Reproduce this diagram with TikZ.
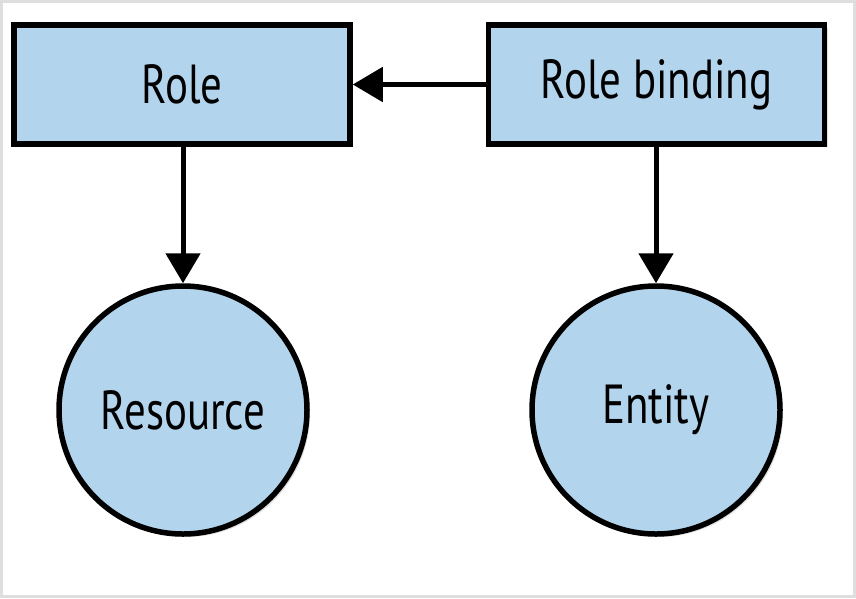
\documentclass[tikz,border=0pt]{standalone}
\usepackage{fontspec}
\setmainfont[FakeStretch=0.78]{PT Sans}
\usetikzlibrary{arrows.meta,shadows}
\definecolor{boxblue}{RGB}{178,212,236}
\definecolor{framegray}{RGB}{222,222,222}
\tikzset{
  box/.style={draw=black, line width=5.5pt, fill=boxblue, minimum width=336pt, minimum height=119pt, inner sep=0pt, font=\fontsize{55}{66}\selectfont,
    drop shadow={shadow xshift=3pt, shadow yshift=-3pt, opacity=0.25}},
  ball/.style={draw=black, line width=5.5pt, fill=boxblue, circle, minimum size=248pt, inner sep=0pt, font=\fontsize{55}{66}\selectfont,
    drop shadow={shadow xshift=3pt, shadow yshift=-3pt, opacity=0.25}},
  link/.style={line width=5pt, -{Triangle[length=30pt,width=34pt]}}
}
\begin{document}
\begin{tikzpicture}[x=1pt,y=-1pt]
\fill[white] (0,0) rectangle (856,598);
\draw[framegray, line width=3pt] (1.5,1.5) rectangle (854.5,596.5);
\useasboundingbox (0,0) rectangle (856,598);
\node[box] (role) at (182,84.5) {Role};
\node[box] (rb) at (656.5,84.5) {Role binding};
\node[ball] (res) at (183,410) {Resource};
\node[ball] (ent) at (656,410) {Entity};
\draw[link] (rb.west) -- (role.east);
\draw[link] (role.south -| res.north) -- (res.north);
\draw[link] (rb.south -| ent.north) -- (ent.north);
\end{tikzpicture}
\end{document}
